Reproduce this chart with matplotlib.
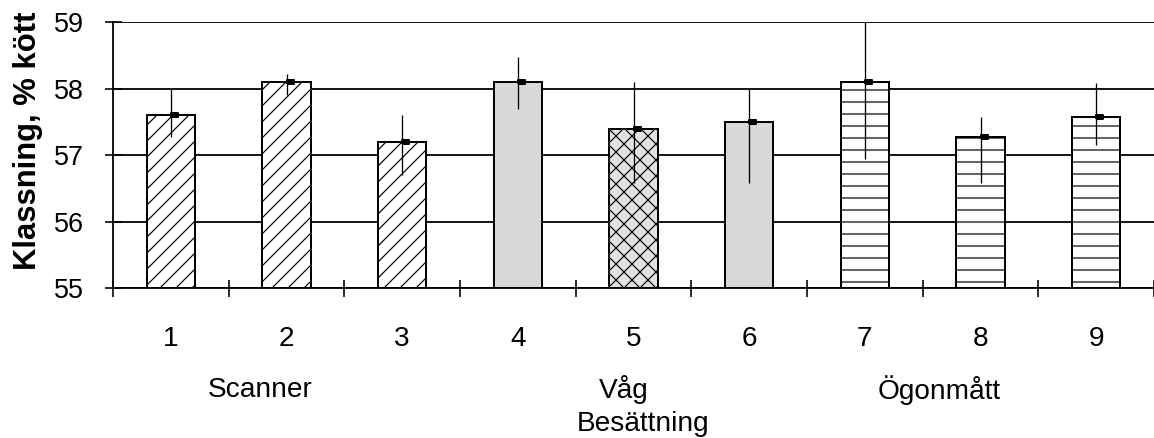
import matplotlib
matplotlib.use('Agg')
import matplotlib.pyplot as plt
import numpy as np

# data
groups = ['1', '2', '3', '4', '5', '6', '7', '8', '9']
values = [57.6, 58.1, 57.2, 58.1, 57.4, 57.5, 58.1, 57.28, 57.58]
err_low = [57.28, 57.91, 56.70, 57.69, 56.58, 56.58, 56.94, 56.58, 57.15]
err_high = [58.0, 58.22, 57.6, 58.48, 58.1, 57.99, 59.0, 57.58, 58.08]
methods = ['Scanner', 'Våg', 'Ögonmått']
method_x = [1.77, 4.92, 7.64]

plt.rcParams['font.family'] = ['Liberation Sans', 'DejaVu Sans']
plt.rcParams['hatch.linewidth'] = 0.6

dpi = 144
fig = plt.figure(figsize=(1154 / dpi, 438 / dpi), dpi=dpi)
ax = fig.add_axes([113 / 1154, 1 - 288.3 / 438, 1 - 113 / 1154, 266 / 438])

x = np.arange(1, 10)
faces = ['white'] * 3 + ['#d8d8d8', '#e2e2e2', '#d8d8d8'] + ['white'] * 3
hatches = ['///'] * 3 + [None, 'xxx', None] + ['--'] * 3

bottom = 55
for i in range(9):
    ax.bar(x[i], values[i] - bottom, 0.42, bottom=bottom, color=faces[i],
           edgecolor='black', linewidth=1.0, hatch=hatches[i], zorder=3)

lo = np.array(values) - np.array(err_low)
hi = np.array(err_high) - np.array(values)
ax.errorbar(x, values, yerr=[lo, hi], fmt='none', ecolor='black',
            elinewidth=0.65, capsize=0, zorder=4)

# small black flag at each mean, starting at the error line and going right
flag = [(0, -0.3), (1, -0.3), (1, 0.3), (0, 0.3), (0, -0.3)]
ax.plot(x, values, ls='none', marker=flag, markersize=7, color='black', zorder=5)

ax.set_xlim(0.5, 9.5)
ax.set_ylim(55, 59)
ax.set_yticks([55, 56, 57, 58, 59])
ax.yaxis.grid(True, color='black', linewidth=0.9)
ax.set_axisbelow(True)

ax.set_xticks(np.arange(0.5, 10, 1))
ax.set_xticklabels([])
ax.set_xticks(x, minor=True)
ax.set_xticklabels(groups, minor=True)
ax.tick_params(axis='x', which='major', direction='inout', length=8.5, width=0.8)
ax.tick_params(axis='x', which='minor', length=0, pad=19, labelsize=14)
ax.tick_params(axis='y', direction='inout', length=8.5, width=0.8, pad=10.5, labelsize=13.5)

for s in ['top', 'right']:
    ax.spines[s].set_visible(False)
ax.spines['left'].set_linewidth(0.9)
ax.spines['bottom'].set_linewidth(0.9)

tr = ax.get_xaxis_transform()
for name, mx in zip(methods, method_x):
    ax.text(mx, -0.382, name, transform=tr, ha='center', va='center', fontsize=14)
ax.text(5.08, -0.51, 'Besättning', transform=tr, ha='center', va='center', fontsize=14)

fig.text(28 / 1154, 1 - 141 / 438, 'Klassning, % kött', rotation=90,
         ha='center', va='center', fontsize=15.5, fontweight='bold')

fig.savefig('out.png', dpi=dpi)
